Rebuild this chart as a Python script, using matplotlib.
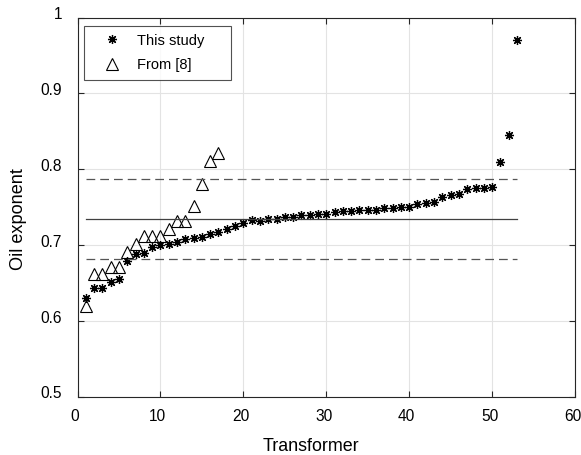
import matplotlib
matplotlib.use("Agg")
import matplotlib.pyplot as plt
from matplotlib.ticker import FuncFormatter
from matplotlib.transforms import ScaledTranslation
import numpy as np

plt.rcParams['font.family'] = ['Liberation Sans', 'DejaVu Sans']

# Data
study_x = list(range(1, 54))
study_y = [0.630, 0.643, 0.643, 0.651, 0.655, 0.679, 0.688, 0.690, 0.697, 0.700,
           0.701, 0.704, 0.708, 0.709, 0.711, 0.715, 0.7175, 0.722, 0.725, 0.729,
           0.733, 0.7325, 0.734, 0.735, 0.737, 0.737, 0.7395, 0.740, 0.7405, 0.7415,
           0.744, 0.745, 0.745, 0.746, 0.7465, 0.747, 0.749, 0.7495, 0.750, 0.750,
           0.754, 0.7557, 0.757, 0.7635, 0.766, 0.768, 0.7737, 0.775, 0.776, 0.7767,
           0.810, 0.845, 0.970]
ref_x = list(range(1, 18))
ref_y = [0.620, 0.6615, 0.6615, 0.6715, 0.6715, 0.691, 0.701, 0.712, 0.712, 0.712,
         0.722, 0.7316, 0.7316, 0.7513, 0.781, 0.811, 0.8215]
mean_val = 0.735
band_low = 0.682
band_high = 0.787
line_x = [1, 53]

x_ticks = [0, 10, 20, 30, 40, 50, 60]
y_ticks = [0.5, 0.6, 0.7, 0.8, 0.9, 1.0]

fig = plt.figure(figsize=(5.81, 4.55), dpi=100)
ax = fig.add_axes([0.1334, 0.1275, 0.8563, 0.834])

ax.plot(study_x, study_y, linestyle='none', marker=(8, 2, 0), markersize=6.5,
        markeredgecolor='black', markeredgewidth=0.9, color='black', label='This study')
ax.plot(ref_x, ref_y, linestyle='none', marker='^', markersize=8,
        markerfacecolor='none', markeredgecolor='black', markeredgewidth=0.8,
        label='From [8]')
ax.plot(line_x, [mean_val, mean_val], color='#404040', linewidth=0.9)
ax.plot(line_x, [band_high, band_high], color='#555555', linewidth=0.9,
        dashes=(7, 4))
ax.plot(line_x, [band_low, band_low], color='#555555', linewidth=0.9,
        dashes=(7, 4))

ax.set_xlim(0, 60)
ax.set_ylim(0.5, 1.0)
ax.set_xticks(x_ticks)
ax.set_yticks(y_ticks)
ax.yaxis.set_major_formatter(FuncFormatter(lambda v, p: f"{v:g}"))
ax.grid(True, color='#e3e3e3', linewidth=0.8)
ax.set_axisbelow(True)
ax.tick_params(direction='in', top=True, right=True, length=4, width=0.8,
               labelsize=11.2, colors='#262626')
ax.tick_params(axis='both', labelcolor='black')
ax.tick_params(axis='y', pad=11)
ax.tick_params(axis='x', pad=8.5)
for s in ax.spines.values():
    s.set_color('#262626')
    s.set_linewidth(0.8)

# shift tick labels slightly (MATLAB-like placement)
off_y = ScaledTranslation(0, 4.5 / 100, fig.dpi_scale_trans)
for lbl in ax.get_yticklabels():
    lbl.set_transform(lbl.get_transform() + off_y)
off_x = ScaledTranslation(-2.5 / 100, 0, fig.dpi_scale_trans)
for lbl in ax.get_xticklabels():
    lbl.set_transform(lbl.get_transform() + off_x)

ax.set_xlabel('Transformer', fontsize=12.9, labelpad=10)
ax.set_ylabel('Oil exponent', fontsize=13.1, labelpad=10)
ax.xaxis.label.set_x(0.4685)
ax.yaxis.label.set_y(0.469)

leg = ax.legend(loc='upper left', bbox_to_anchor=(0.0135, 0.8375, 0.2955, 0.1395),
                mode='expand', fontsize=10.5,
                frameon=True, fancybox=False, edgecolor='#262626',
                handlelength=2.8, handletextpad=0.35, borderpad=0.5,
                labelspacing=0.75, borderaxespad=0.0)
leg.get_frame().set_linewidth(0.8)
leg.set_zorder(5)

fig.savefig('out.png', dpi=100)
